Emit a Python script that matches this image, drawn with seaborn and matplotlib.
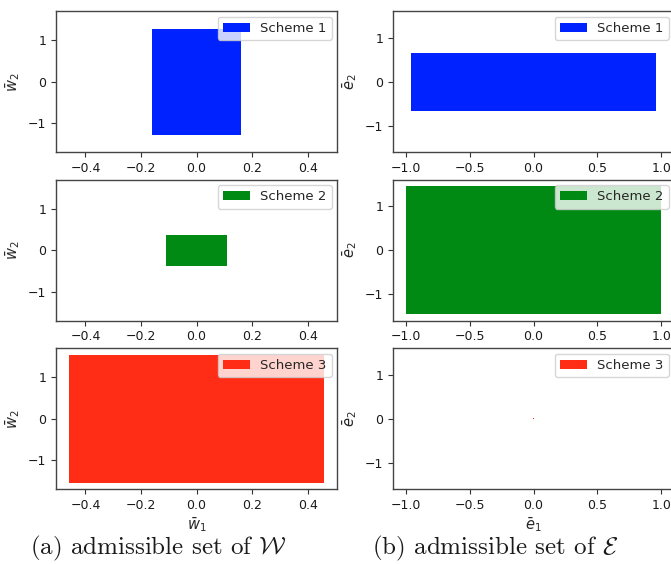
import numpy as np
import matplotlib
matplotlib.use("Agg")
import matplotlib.pyplot as plt
import seaborn as sns

# ---- data: admissible boxes per scheme ----
schemes = ["Scheme 1", "Scheme 2", "Scheme 3"]
colors = ["#0022ff", "#008a14", "#ff2d16"]
w1_half = [0.16, 0.11, 0.46]
w2_half = [1.28, 0.37, 1.54]
e1_half = [0.96, 1.00, 0.006]
e2_half = [0.65, 1.45, 0.012]

sns.set_style("ticks")
plt.rcParams["mathtext.fontset"] = "dejavusans"

W, H = 671, 564
fig = plt.figure(figsize=(W / 100, H / 100), dpi=100)

col_x = [56 / W, 393 / W]
ax_w = 281 / W
row_bottom = [1 - 152.3 / H, 1 - 320.7 / H, 1 - 489.3 / H]
ax_h = 141 / H

def draw_box(ax, xh, yh, color, label):
    xs = np.array([-xh, xh])
    ax.fill_between(xs, [-yh, -yh], [yh, yh], color=color, linewidth=0, label=label)

left_axes, right_axes = [], []
for i in range(3):
    shx = left_axes[0] if left_axes else None
    axl = fig.add_axes([col_x[0], row_bottom[i], ax_w, ax_h], sharex=shx, sharey=shx)
    left_axes.append(axl)
    shr = right_axes[0] if right_axes else None
    axr = fig.add_axes([col_x[1], row_bottom[i], ax_w, ax_h], sharex=shr, sharey=shr)
    right_axes.append(axr)

for i, name in enumerate(schemes):
    axl, axr = left_axes[i], right_axes[i]
    draw_box(axl, w1_half[i], w2_half[i], colors[i], name)
    draw_box(axr, e1_half[i], e2_half[i], colors[i], name)
    for ax, yl in ((axl, r"$\bar{w}_2$"), (axr, r"$\bar{e}_2$")):
        ax.set_ylabel(yl, fontsize=10.5, labelpad=4)
        ax.tick_params(labelsize=9, labelbottom=True, length=3.5, colors="#333333",
                       labelcolor="#1a1a1a")
        ax.legend(loc="upper right", fontsize=9.5, borderaxespad=0.4)
        for s in ax.spines.values():
            s.set_linewidth(1.0)
            s.set_color("#444444")

for ax in left_axes + right_axes:
    ax.set_yticks([-1, 0, 1])
left_axes[0].set_xticks([-0.4, -0.2, 0.0, 0.2, 0.4])
right_axes[0].set_xticks([-1.0, -0.5, 0.0, 0.5, 1.0])

left_axes[2].set_xlabel(r"$\bar{w}_1$", fontsize=10.5, labelpad=2)
right_axes[2].set_xlabel(r"$\bar{e}_1$", fontsize=10.5, labelpad=2)

plt.rcParams["mathtext.fontset"] = "cm"
fig.text(158 / W, 1 - 548 / H, r"(a) admissible set of $\mathcal{W}$",
         family="cmr10", fontsize=18, ha="center", va="center", color="#1a1a1a")
fig.text(495 / W, 1 - 548 / H, r"(b) admissible set of $\mathcal{E}$",
         family="cmr10", fontsize=18, ha="center", va="center", color="#1a1a1a")

fig.savefig("out.png", dpi=100)
